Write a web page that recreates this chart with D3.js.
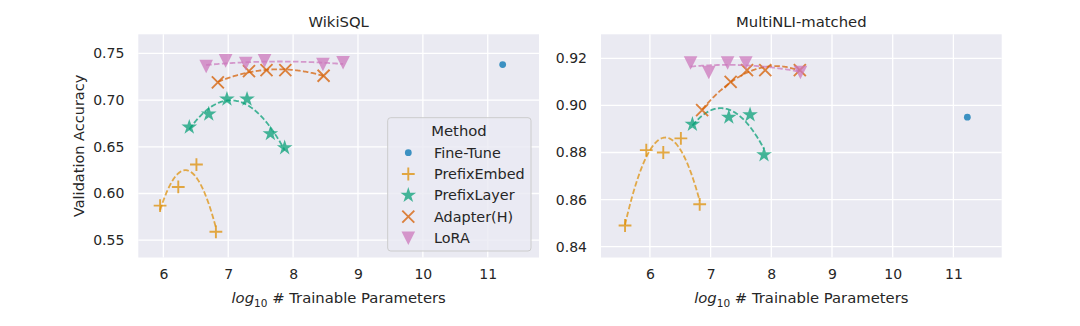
<!DOCTYPE html>
<html>
<head>
<meta charset="utf-8">
<script src="https://cdn.jsdelivr.net/npm/d3@7"></script>
<style>
  html, body { margin: 0; padding: 0; background: #ffffff; }
  svg { display: block; font-family: "DejaVu Sans", sans-serif; }
</style>
</head>
<body>
<svg id="chart" width="1080" height="326"></svg>
<script>
// ---------------- data ----------------
const methods = ["Fine-Tune", "PrefixEmbed", "PrefixLayer", "Adapter(H)", "LoRA"];
const colors = ["#0173b2", "#de8f05", "#029e73", "#d55e00", "#cc78bc"];
const panelTitles = ["WikiSQL", "MultiNLI-matched"];
const xTicks = [6, 7, 8, 9, 10, 11];
const yTicksWiki = [0.55, 0.60, 0.65, 0.70, 0.75];
const yTicksMnli = [0.84, 0.86, 0.88, 0.90, 0.92];

// WikiSQL: log10 params (x) and validation accuracy (y)
const wikiFineTuneX = [11.23];
const wikiFineTuneY = [0.738];
const wikiPrefixEmbedX = [5.95, 6.23, 6.51, 6.81];
const wikiPrefixEmbedY = [0.587, 0.607, 0.631, 0.559];
const wikiPrefixLayerX = [6.40, 6.70, 6.98, 7.29, 7.65, 7.87];
const wikiPrefixLayerY = [0.671, 0.685, 0.701, 0.701, 0.664, 0.649];
const wikiAdapterX = [6.84, 7.32, 7.59, 7.88, 8.47];
const wikiAdapterY = [0.719, 0.731, 0.732, 0.732, 0.726];
const wikiLoraX = [6.66, 6.96, 7.27, 7.56, 8.46, 8.77];
const wikiLoraY = [0.736, 0.742, 0.739, 0.742, 0.738, 0.740];

// MultiNLI-matched
const mnliFineTuneX = [11.23];
const mnliFineTuneY = [0.895];
const mnliPrefixEmbedX = [5.59, 5.94, 6.22, 6.51, 6.82];
const mnliPrefixEmbedY = [0.849, 0.881, 0.880, 0.886, 0.858];
const mnliPrefixLayerX = [6.70, 7.30, 7.65, 7.88];
const mnliPrefixLayerY = [0.892, 0.895, 0.896, 0.879];
const mnliAdapterX = [6.86, 7.33, 7.60, 7.90, 8.47];
const mnliAdapterY = [0.898, 0.910, 0.915, 0.915, 0.915];
const mnliLoraX = [6.67, 6.97, 7.28, 7.58, 8.48];
const mnliLoraY = [0.918, 0.914, 0.918, 0.918, 0.914];

// ---------------- helpers ----------------
function zip(xs, ys) { return xs.map((x, i) => ({x: x, y: ys[i]})); }

// least squares quadratic fit (regression order 2), computed from the data
function polyfit2(pts) {
  let S = [0,0,0,0,0], T = [0,0,0];
  pts.forEach(p => {
    let xp = 1;
    for (let k = 0; k < 5; k++) { S[k] += xp; if (k < 3) T[k] += xp * p.y; xp *= p.x; }
  });
  const A = [[S[0],S[1],S[2],T[0]],[S[1],S[2],S[3],T[1]],[S[2],S[3],S[4],T[2]]];
  for (let i = 0; i < 3; i++) {
    let m = i;
    for (let r = i+1; r < 3; r++) if (Math.abs(A[r][i]) > Math.abs(A[m][i])) m = r;
    [A[i], A[m]] = [A[m], A[i]];
    for (let r = 0; r < 3; r++) {
      if (r === i) continue;
      const f = A[r][i] / A[i][i];
      for (let c = i; c < 4; c++) A[r][c] -= f * A[i][c];
    }
  }
  const c = [A[0][3]/A[0][0], A[1][3]/A[1][1], A[2][3]/A[2][2]];
  return x => c[0] + c[1]*x + c[2]*x*x;
}

const panels = [
  {
    title: panelTitles[0],
    x0: 138.3, x1: 539, y0: 34.3, y1: 257.5,
    xDomain: [5.614, 11.79], yDomain: [0.5315, 0.7704],
    yTicks: yTicksWiki, showYLabel: true, legend: true,
    series: [
      zip(wikiFineTuneX, wikiFineTuneY), zip(wikiPrefixEmbedX, wikiPrefixEmbedY),
      zip(wikiPrefixLayerX, wikiPrefixLayerY), zip(wikiAdapterX, wikiAdapterY),
      zip(wikiLoraX, wikiLoraY)
    ]
  },
  {
    title: panelTitles[1],
    x0: 601, x1: 1001.7, y0: 34.3, y1: 257.5,
    xDomain: [5.194, 11.796], yDomain: [0.8354, 0.9302],
    yTicks: yTicksMnli, showYLabel: false, legend: false,
    series: [
      zip(mnliFineTuneX, mnliFineTuneY), zip(mnliPrefixEmbedX, mnliPrefixEmbedY),
      zip(mnliPrefixLayerX, mnliPrefixLayerY), zip(mnliAdapterX, mnliAdapterY),
      zip(mnliLoraX, mnliLoraY)
    ]
  }
];

// marker drawing
function drawMarker(g, idx, cx, cy, scale) {
  const s = scale || 1;
  const col = colors[idx];
  if (idx === 0) {
    g.append("circle").attr("cx", cx).attr("cy", cy).attr("r", 3.4 * s)
      .attr("fill", col).attr("fill-opacity", 0.75);
  } else if (idx === 1) {
    const h = 6.4 * s;
    g.append("path").attr("d", `M${cx-h},${cy}H${cx+h}M${cx},${cy-h}V${cy+h}`)
      .attr("stroke", col).attr("stroke-opacity", 0.75).attr("stroke-width", 1.9).attr("fill", "none");
  } else if (idx === 2) {
    g.append("path").attr("d", d3.symbol(d3.symbolStar, 76 * s * s)())
      .attr("transform", `translate(${cx},${cy})`)
      .attr("fill", col).attr("fill-opacity", 0.72);
  } else if (idx === 3) {
    const h = 6.0 * s;
    g.append("path").attr("d", `M${cx-h},${cy-h}L${cx+h},${cy+h}M${cx-h},${cy+h}L${cx+h},${cy-h}`)
      .attr("stroke", col).attr("stroke-opacity", 0.75).attr("stroke-width", 1.9).attr("fill", "none");
  } else {
    const h = 6.8 * s;
    g.append("path").attr("d", `M${cx-h},${cy-h}L${cx+h},${cy-h}L${cx},${cy+h}Z`)
      .attr("fill", col).attr("fill-opacity", 0.75);
  }
}

const svg = d3.select("#chart");

panels.forEach(p => {
  const x = d3.scaleLinear().domain(p.xDomain).range([p.x0, p.x1]);
  const y = d3.scaleLinear().domain(p.yDomain).range([p.y1, p.y0]);
  const g = svg.append("g");

  // background
  g.append("rect").attr("x", p.x0).attr("y", p.y0)
    .attr("width", p.x1 - p.x0).attr("height", p.y1 - p.y0).attr("fill", "#eaeaf2");

  // grid
  g.selectAll(".gx").data(xTicks).enter().append("line")
    .attr("x1", d => x(d)).attr("x2", d => x(d)).attr("y1", p.y0).attr("y2", p.y1)
    .attr("stroke", "#ffffff").attr("stroke-width", 1.3);
  g.selectAll(".gy").data(p.yTicks).enter().append("line")
    .attr("x1", p.x0).attr("x2", p.x1).attr("y1", d => y(d)).attr("y2", d => y(d))
    .attr("stroke", "#ffffff").attr("stroke-width", 1.3);

  // axes (labels only, no spines)
  const xAxis = d3.axisBottom(x).tickValues(xTicks).tickSize(0).tickPadding(12).tickFormat(d3.format("d"));
  const gx = g.append("g").attr("transform", `translate(0,${p.y1})`).call(xAxis);
  gx.select(".domain").remove();
  gx.selectAll("text").attr("font-size", 14).attr("fill", "#262626")
    .attr("font-family", "DejaVu Sans");

  const yAxis = d3.axisLeft(y).tickValues(p.yTicks).tickSize(0).tickPadding(14).tickFormat(d3.format(".2f"));
  const gy = g.append("g").attr("transform", `translate(${p.x0},0)`).call(yAxis);
  gy.select(".domain").remove();
  gy.selectAll("text").attr("font-size", 14).attr("fill", "#262626")
    .attr("font-family", "DejaVu Sans");

  // title
  g.append("text").attr("x", (p.x0 + p.x1) / 2).attr("y", 27)
    .attr("text-anchor", "middle").attr("font-size", 14.8).attr("fill", "#262626")
    .text(p.title);

  // x label
  const xl = g.append("text").attr("x", (p.x0 + p.x1) / 2).attr("y", 303)
    .attr("text-anchor", "middle").attr("font-size", 14.8).attr("fill", "#262626");
  xl.append("tspan").attr("font-style", "italic").text("log");
  xl.append("tspan").attr("font-size", 10.5).attr("dy", 3.5).text("10");
  xl.append("tspan").attr("dy", -3.5).text(" # Trainable Parameters");

  if (p.showYLabel) {
    g.append("text").attr("transform", `translate(84,${(p.y0 + p.y1) / 2}) rotate(-90)`)
      .attr("text-anchor", "middle").attr("font-size", 14.5).attr("fill", "#262626")
      .text("Validation Accuracy");
  }

  // series: scatter + quadratic fit line
  const clip = "clip-" + p.title.replace(/[^a-z]/gi, "");
  svg.append("clipPath").attr("id", clip).append("rect")
    .attr("x", p.x0).attr("y", p.y0).attr("width", p.x1 - p.x0).attr("height", p.y1 - p.y0);
  const gs = g.append("g").attr("clip-path", `url(#${clip})`);

  p.series.forEach((pts, idx) => {
    pts.forEach(d => drawMarker(gs, idx, x(d.x), y(d.y)));
    if (pts.length >= 3) {
      const f = polyfit2(pts);
      const ext = d3.extent(pts, d => d.x);
      const xs = d3.range(0, 101).map(i => ext[0] + (ext[1] - ext[0]) * i / 100);
      const line = d3.line().x(d => x(d)).y(d => y(f(d)));
      gs.append("path").attr("d", line(xs)).attr("fill", "none")
        .attr("stroke", colors[idx]).attr("stroke-opacity", 0.72)
        .attr("stroke-width", 1.8).attr("stroke-dasharray", "5.5,2.4");
    }
  });

  if (p.legend) {
    const lg = g.append("g");
    lg.append("rect").attr("x", 387.7).attr("y", 117.7).attr("width", 143.3).attr("height", 133.3)
      .attr("rx", 3).attr("fill", "#eaeaf2").attr("fill-opacity", 0.8)
      .attr("stroke", "#cccccc").attr("stroke-width", 1);
    lg.append("text").attr("x", 459).attr("y", 135.5).attr("text-anchor", "middle")
      .attr("font-size", 14.8).attr("fill", "#262626").text("Method");
    const rowY = [152.7, 174.0, 195.3, 216.7, 238.3];
    methods.forEach((m, i) => {
      drawMarker(lg, i, 408.3, rowY[i], 1);
      lg.append("text").attr("x", 434).attr("y", rowY[i] + 5)
        .attr("font-size", 14.4).attr("fill", "#262626").text(m);
    });
  }
});
</script>
</body>
</html>
